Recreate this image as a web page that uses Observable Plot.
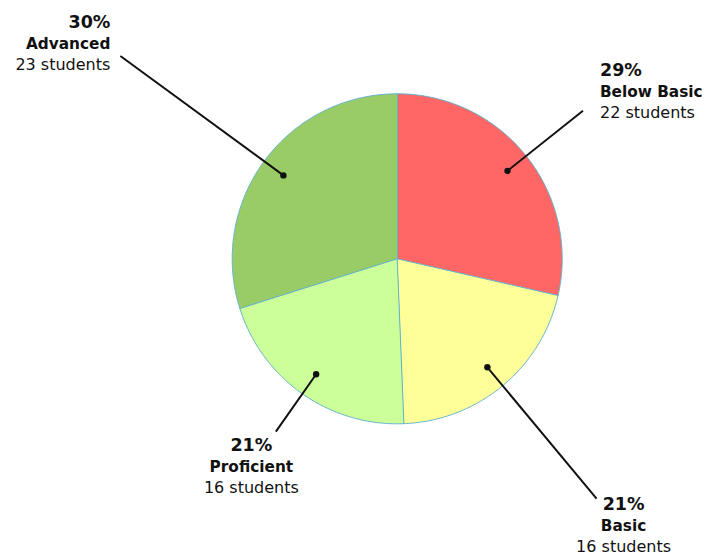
<!DOCTYPE html>
<html><head><meta charset="utf-8">
<script src="https://cdn.jsdelivr.net/npm/d3@7"></script>
<script src="https://cdn.jsdelivr.net/npm/@observablehq/plot@0.6"></script>
<style>html,body{margin:0;padding:0;background:#fff}svg{display:block}</style>
</head><body><div id="chart"></div>
<script>
// ---- data ----
const categories = ["Below Basic", "Basic", "Proficient", "Advanced"];
const students = [22, 16, 16, 23];
const colors = ["#FF6666", "#FFFF99", "#CCFF99", "#99CC66"];

// ---- layout ----
const W = 708, H = 559, CX = 396.7, CY = 258.3, R = 165;
const leaderLen = [1.44, 1.89, 1.28, 2.08];   // leader end, in radii
const dotRadius = 0.855;                       // dot position, in radii
const labelAnchor = ["start", "middle", "middle", "end"];
const labelDx = [17, 27, -24.5, -10];
const labelDy = [-35, 11, 19, -27.5];         // first baseline relative to leader end
const lineGap = 21;
const FONT = "DejaVu Sans, Verdana, sans-serif";

const total = d3.sum(students);
const arcs = d3.pie().sort(null).value(d => d)(students);
const slices = arcs.map((a, i) => ({
  i, name: categories[i], value: students[i], color: colors[i],
  a0: a.startAngle, a1: a.endAngle, mid: (a.startAngle + a.endAngle) / 2,
  pct: Math.round(students[i] / total * 100) + "%",
  count: students[i] + " students"
}));

const poly = [];
for (const s of slices) {
  poly.push({name: s.name, color: s.color, x: 0, y: 0});
  const n = Math.ceil((s.a1 - s.a0) / (Math.PI / 360));
  for (let k = 0; k <= n; k++) {
    const t = s.a0 + (s.a1 - s.a0) * k / n;
    poly.push({name: s.name, color: s.color, x: Math.sin(t), y: Math.cos(t)});
  }
}
const labels = slices.map(s => ({
  ...s,
  x1: dotRadius * Math.sin(s.mid), y1: dotRadius * Math.cos(s.mid),
  x2: leaderLen[s.i] * Math.sin(s.mid), y2: leaderLen[s.i] * Math.cos(s.mid)
}));

const textMarks = [];
for (const l of labels) {
  const common = {x: "x2", y: "y2", dx: labelDx[l.i], textAnchor: labelAnchor[l.i],
    lineAnchor: "bottom", fill: "#111", fontFamily: FONT};
  textMarks.push(Plot.text([l], {...common, text: "pct", dy: labelDy[l.i], fontSize: 17.5, fontWeight: "bold"}));
  textMarks.push(Plot.text([l], {...common, text: "name", dy: labelDy[l.i] + lineGap, fontSize: 15.3, fontWeight: "bold"}));
  textMarks.push(Plot.text([l], {...common, text: "count", dy: labelDy[l.i] + 2 * lineGap, fontSize: 16}));
}

const chart = Plot.plot({
  width: W, height: H,
  margin: 0,
  x: {domain: [-CX / R, (W - CX) / R], axis: null},
  y: {domain: [-(H - CY) / R, CY / R], axis: null},
  color: {type: "identity"},
  marks: [
    Plot.line(poly, {x: "x", y: "y", z: "name", fill: "color", stroke: "#62B3CC", strokeWidth: 1, curve: "linear-closed"}),
    Plot.link(labels, {x1: "x1", y1: "y1", x2: "x2", y2: "y2", stroke: "#111", strokeWidth: 2}),
    Plot.dot(labels, {x: "x1", y: "y1", r: 3.2, fill: "#111", stroke: "none"}),
    ...textMarks
  ]
});
document.getElementById("chart").appendChild(chart);
</script>
</body></html>
